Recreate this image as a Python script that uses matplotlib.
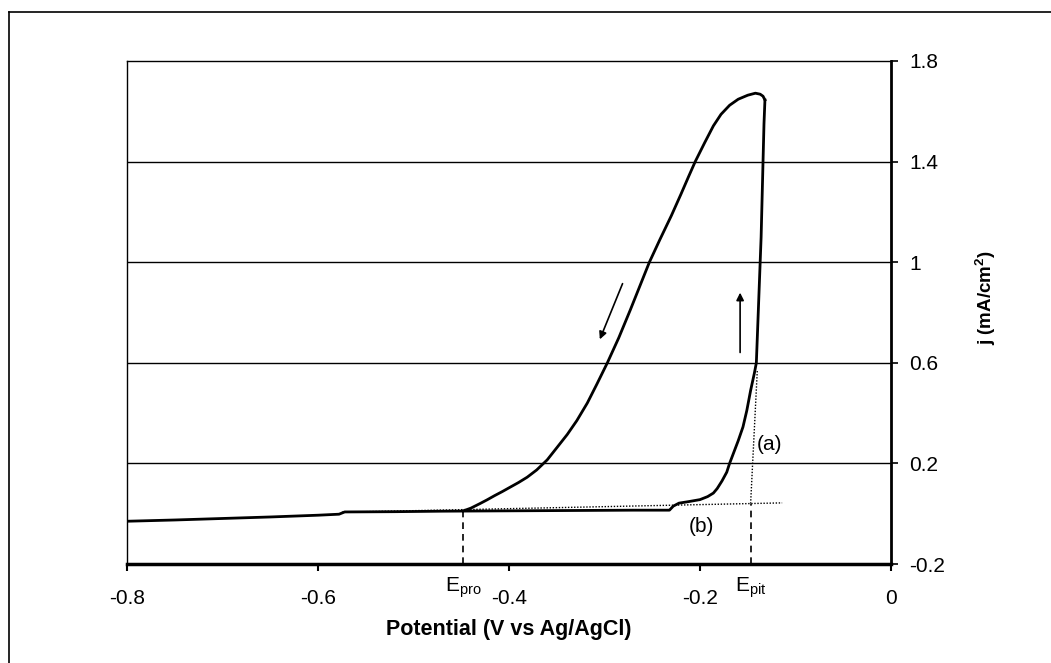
import numpy as np
import matplotlib.pyplot as plt
from matplotlib.lines import Line2D
import matplotlib.transforms as mtransforms

plt.rcParams['font.family'] = ['Liberation Sans', 'DejaVu Sans']
plt.rcParams['mathtext.fontset'] = 'custom'
plt.rcParams['mathtext.rm'] = 'Liberation Sans'
plt.rcParams['mathtext.bf'] = 'Liberation Sans:bold'

# forward scan (passive region, then pitting rise)
E_fwd = [-0.800, -0.750, -0.700, -0.650, -0.600, -0.578, -0.572, -0.520, -0.470,
         -0.420, -0.370, -0.320, -0.270, -0.232, -0.228, -0.222, -0.212, -0.200,
         -0.192, -0.186, -0.182, -0.177, -0.172, -0.169, -0.165, -0.160, -0.155,
         -0.151, -0.147, -0.143, -0.141, -0.139, -0.137, -0.136, -0.135, -0.134,
         -0.133, -0.132]
j_fwd = [-0.030, -0.025, -0.019, -0.013, -0.006, -0.002, 0.007, 0.008, 0.010,
         0.011, 0.012, 0.013, 0.014, 0.014, 0.030, 0.042, 0.048, 0.056,
         0.068, 0.082, 0.100, 0.130, 0.165, 0.200, 0.240, 0.290, 0.345,
         0.410, 0.490, 0.560, 0.600, 0.800, 1.000, 1.100, 1.250, 1.400,
         1.550, 1.645]

# reverse scan (hysteresis loop back to repassivation)
E_rev = [-0.132, -0.134, -0.137, -0.142, -0.150, -0.160, -0.169, -0.178, -0.186,
         -0.195, -0.205, -0.212, -0.220, -0.230, -0.242, -0.253, -0.263, -0.273,
         -0.285, -0.297, -0.308, -0.318, -0.329, -0.339, -0.350, -0.360, -0.371,
         -0.381, -0.390, -0.399, -0.407, -0.415, -0.423, -0.430, -0.440, -0.448]
j_rev = [1.645, 1.660, 1.668, 1.672, 1.664, 1.648, 1.624, 1.588, 1.542,
         1.476, 1.400, 1.340, 1.270, 1.185, 1.090, 1.000, 0.905, 0.810,
         0.700, 0.600, 0.515, 0.440, 0.370, 0.315, 0.262, 0.214, 0.174,
         0.145, 0.124, 0.105, 0.088, 0.072, 0.055, 0.041, 0.022, 0.011]

E_pro, j_pro = -0.448, 0.011
E_pit, j_pit = -0.147, 0.040
tang_a_E = [-0.147, -0.140]
tang_a_j = [0.040, 0.570]
base_b_E = [-0.575, -0.114]
base_b_j = [0.006, 0.043]

x_ticks = [-0.8, -0.6, -0.4, -0.2, 0]
x_labels = ['-0.8', '-0.6', '-0.4', '-0.2', '0']
y_ticks = [-0.2, 0.2, 0.6, 1.0, 1.4, 1.8]
y_labels = ['-0.2', '0.2', '0.6', '1', '1.4', '1.8']

fig = plt.figure(figsize=(10.51, 6.63), dpi=100)
ax = fig.add_axes([127 / 1051, 1 - 564 / 663, (891 - 127) / 1051, (564 - 61) / 663])

# outer frame (left and top edges visible)
fig.add_artist(Line2D([9 / 1051, 9 / 1051], [0, 1 - 12 / 663], color='black', lw=1.2,
                      transform=fig.transFigure))
fig.add_artist(Line2D([9 / 1051, 1], [1 - 12 / 663, 1 - 12 / 663], color='black', lw=1.2,
                      transform=fig.transFigure))

for yv in [0.2, 0.6, 1.0, 1.4]:
    ax.axhline(yv, color='black', lw=1.0, zorder=1)

ax.plot(base_b_E, base_b_j, color='black', lw=1.0, ls=(0, (1, 1.2)), zorder=2)
ax.plot(tang_a_E, tang_a_j, color='black', lw=1.0, ls=(0, (1, 1.2)), zorder=2)
ax.plot([E_pro, E_pro], [-0.2, j_pro], color='black', lw=1.2, ls=(0, (4, 3)), zorder=2)
ax.plot([E_pit, E_pit], [-0.2, j_pit], color='black', lw=1.2, ls=(0, (4, 3)), zorder=2)

ax.plot(E_fwd, j_fwd, color='black', lw=2.0, zorder=3, solid_joinstyle='round')
ax.plot(E_rev, j_rev, color='black', lw=2.0, zorder=3, solid_joinstyle='round')

# scan direction arrows
ax.annotate('', xy=(-0.306, 0.683), xytext=(-0.280, 0.925),
            arrowprops=dict(arrowstyle='-|>', color='black', lw=1.2, mutation_scale=11))
ax.annotate('', xy=(-0.158, 0.890), xytext=(-0.158, 0.630),
            arrowprops=dict(arrowstyle='-|>', color='black', lw=1.2, mutation_scale=11))

ax.text(-0.127, 0.274, '(a)', fontsize=15, ha='center', va='center')
ax.text(-0.199, -0.050, '(b)', fontsize=15, ha='center', va='center')

trans = mtransforms.blended_transform_factory(ax.transData, ax.transAxes)
ax.text(E_pro, -0.022, r'E$_{\mathrm{pro}}$', fontsize=15, ha='center', va='top', transform=trans)
ax.text(E_pit, -0.022, r'E$_{\mathrm{pit}}$', fontsize=15, ha='center', va='top', transform=trans)

ax.set_xlim(-0.8, 0)
ax.set_ylim(-0.2, 1.8)
ax.set_xticks(x_ticks)
ax.set_xticklabels(x_labels, fontsize=15)
ax.yaxis.tick_right()
ax.yaxis.set_label_position('right')
ax.set_yticks(y_ticks)
ax.set_yticklabels(y_labels, fontsize=15)
ax.tick_params(axis='x', direction='out', length=5, width=1.5, pad=13)
ax.tick_params(axis='y', direction='out', length=5, width=1.2, pad=8)

for side in ['top', 'left']:
    ax.spines[side].set_linewidth(1.0)
ax.spines['right'].set_linewidth(2.0)
ax.spines['bottom'].set_linewidth(2.5)

ax.set_xlabel('Potential (V vs Ag/AgCl)', fontsize=15.5, fontweight='bold', labelpad=8)
ax.set_ylabel(r'j (mA/cm$^\mathbf{2}$)', fontsize=13.5, fontweight='bold')
ax.yaxis.set_label_coords(1.108, 0.529)

fig.savefig('out.png', dpi=100)
